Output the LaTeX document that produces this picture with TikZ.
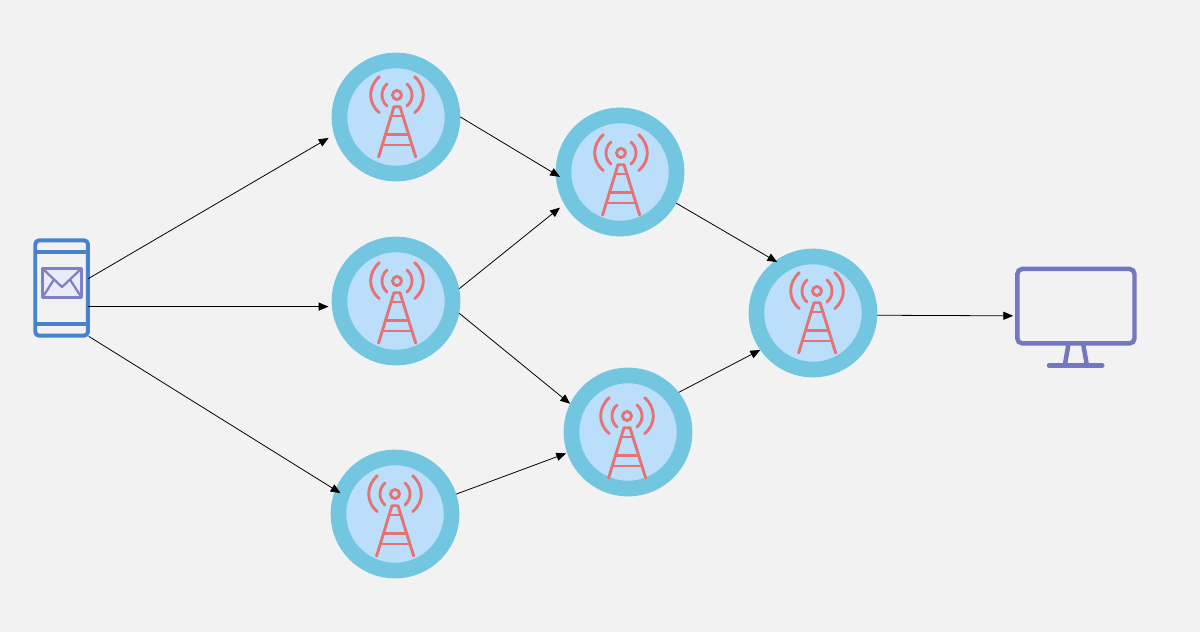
\documentclass[tikz,border=0pt]{standalone}
\usepackage{tikz}
\usetikzlibrary{arrows.meta}
\definecolor{pagegrey}{HTML}{F2F2F2}
\definecolor{ringblue}{HTML}{73C6E0}
\definecolor{discblue}{HTML}{BBDEFB}
\definecolor{towerred}{HTML}{E57373}
\definecolor{phoneblue}{HTML}{4682CD}
\definecolor{screenblue}{HTML}{7277BF}
\definecolor{mailfill}{HTML}{EAEAF8}
\definecolor{mailline}{HTML}{7E80C8}
\tikzset{station/.style={shape=circle,draw=ringblue,fill=discblue,line width=8.9pt,minimum size=2.264cm,inner sep=0pt}}
\tikzset{handset/.style={shape=rectangle,draw=phoneblue,line width=2.27pt,rounded corners=0.08cm,minimum width=1.054cm,minimum height=1.908cm,inner sep=0pt}}
\tikzset{screen/.style={shape=rectangle,draw=screenblue,line width=2.55pt,rounded corners=0.1cm,minimum width=2.344cm,minimum height=1.49cm,inner sep=0pt}}
\tikzset{link/.style={->,>={Triangle[length=5.6pt,width=4.6pt]},black,line width=0.45pt}}
\tikzset{pics/towericon/.style={code={
  \begin{scope}[draw=towerred,line width=1.65pt,line cap=round,line join=round]
    \draw (0,0) circle (4.5);
    \draw (-10,-11) .. controls (-16.7,-5) and (-16.7,5) .. (-10,11);
    \draw (10,-11) .. controls (16.7,-5) and (16.7,5) .. (10,11);
    \draw (-17.7,-18.3) .. controls (-29.2,-8) and (-29.2,8) .. (-17.7,17.7);
    \draw (17.7,-18.3) .. controls (29.2,-8) and (29.2,8) .. (17.7,17.7);
    \draw (-18.4,62) -- (-3,11.7) -- (3,11.7) -- (18.7,62);
    \draw (-5.9,21) -- (5.9,21);
    \draw (-11.4,39.3) -- (11.4,39.3);
    \draw (-14.7,50) -- (14.7,50);
  \end{scope}
}}}

\begin{document}
\begin{tikzpicture}[x=0.02cm,y=-0.02cm]
  \fill [pagegrey] (0,0) rectangle (1200,632);
  \useasboundingbox (0,0) rectangle (1200,632);

  \node [station] (towerA) at (396,117) {};
  \node [station] (towerB) at (396,301) {};
  \node [station] (towerC) at (395,514) {};
  \node [station] (towerD) at (620,172) {};
  \node [station] (towerE) at (628,432) {};
  \node [station] (towerF) at (813,313) {};
  \foreach \ix/\iy in {397/95,397/281,395/494,621/153,627/416,817/291}
    \pic at (\ix,\iy) {towericon};

  % phone with the mail on it
  \node [handset] (phone) at (61.6,288) {};
  \draw [phoneblue,line width=2.27pt] (35,252) -- (88,252) (35,324) -- (88,324);
  \draw [mailline,fill=mailfill,line width=1.3pt,line join=round]
    (42.5,268.5) rectangle (81.5,297.5);
  \draw [mailline,line width=1.3pt,line join=round]
    (42.5,268.5) -- (62,287) -- (81.5,268.5)
    (42.5,297.5) -- (54,279.5) (81.5,297.5) -- (70,279.5);

  % monitor
  \node [screen] (monitor) at (1075.9,306.2) {};
  \draw [screenblue,line width=2.55pt] (1068.3,345) -- (1065,364) (1083.3,345) -- (1086.7,364);
  \draw [screenblue,line width=2.55pt,line cap=round] (1049,365.3) -- (1102.3,365.3);

  \path [link] (phone.20) edge [shorten <=-1.1pt,shorten >=3.6pt] (towerA.196)
               (phone.-33.8) edge [shorten <=-1.1pt,shorten >=1.9pt] (towerB.185)
               (phone.-60) edge [shorten <=-0.8pt,shorten >=-3.5pt] (towerC.158)
               (towerA.0) edge [shorten >=-2.9pt] (towerD.182)
               (towerB.11) edge [shorten >=3.1pt] (towerD.210)
               (towerB.-11.5) edge (towerE.154)
               (towerC.18) edge [shorten >=0.6pt] (towerE.199.5)
               (towerD.-29) edge [shorten >=-1.4pt] (towerF.126.5)
               (towerE.38.4) edge (towerF.215.4)
               (towerF.-2.64) edge [shorten >=1.1pt] (monitor.189.14);
\end{tikzpicture}
\end{document}
